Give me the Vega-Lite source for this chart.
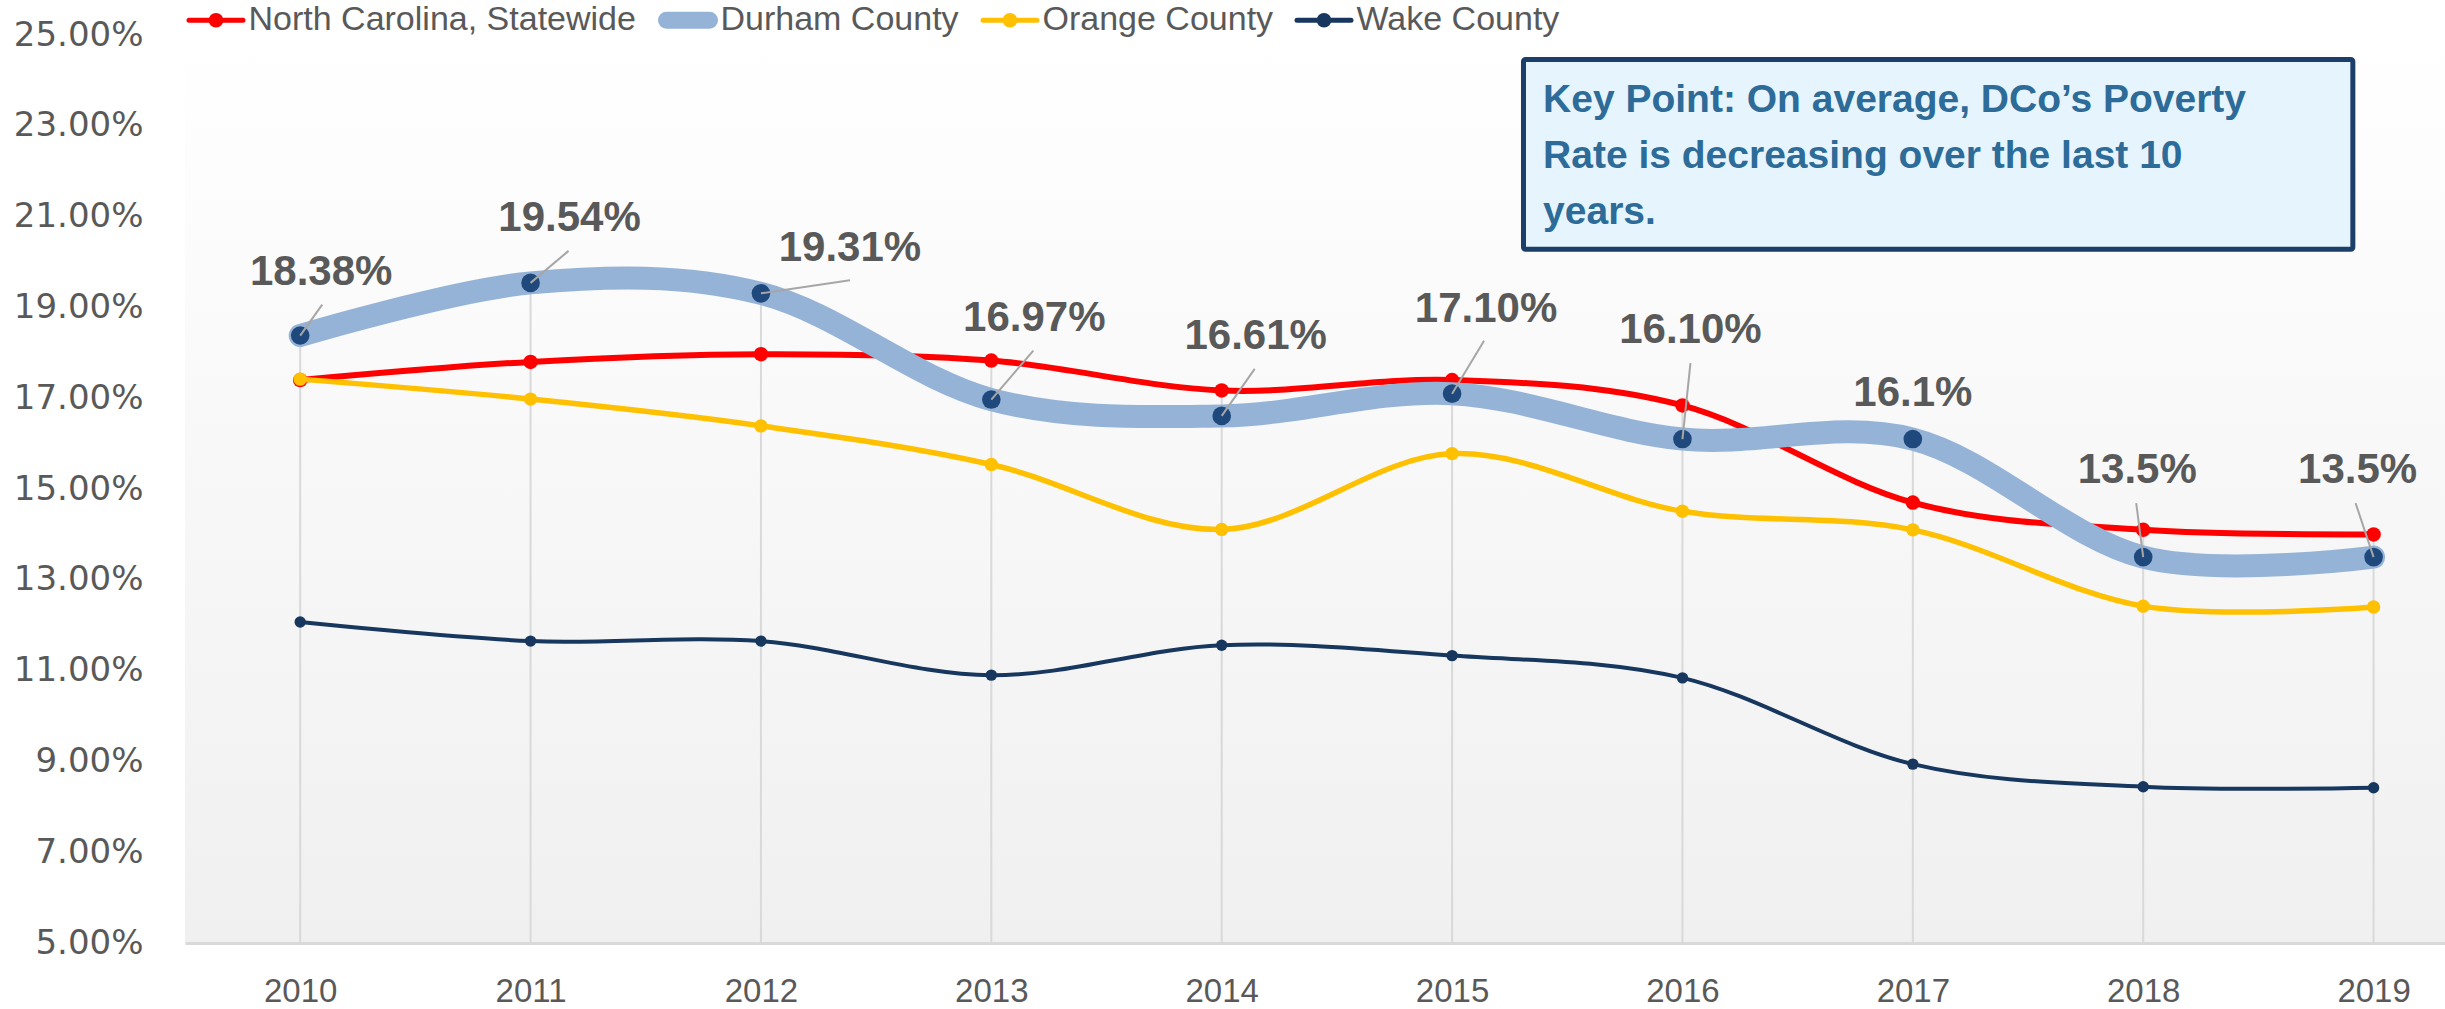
{
  "$schema": "https://vega.github.io/schema/vega-lite/v6.json",
  "width": 2260,
  "height": 908,
  "autosize": {"type": "none"},
  "padding": {"left": 185, "top": 35, "right": 0, "bottom": 66},
  "background": "#FFFFFF",
  "config": {"view": {"stroke": null}, "font": "Liberation Sans"},
  "datasets": {
    "annot": [{"k": 1}]
  },
  "data": {
    "values": [
      {"year": 2010, "series": "North Carolina, Statewide", "value": 17.40},
      {"year": 2011, "series": "North Carolina, Statewide", "value": 17.80},
      {"year": 2012, "series": "North Carolina, Statewide", "value": 17.97},
      {"year": 2013, "series": "North Carolina, Statewide", "value": 17.83},
      {"year": 2014, "series": "North Carolina, Statewide", "value": 17.17},
      {"year": 2015, "series": "North Carolina, Statewide", "value": 17.40},
      {"year": 2016, "series": "North Carolina, Statewide", "value": 16.84},
      {"year": 2017, "series": "North Carolina, Statewide", "value": 14.70},
      {"year": 2018, "series": "North Carolina, Statewide", "value": 14.10},
      {"year": 2019, "series": "North Carolina, Statewide", "value": 14.00},
      {"year": 2010, "series": "Durham County", "value": 18.38, "label": "18.38%"},
      {"year": 2011, "series": "Durham County", "value": 19.54, "label": "19.54%"},
      {"year": 2012, "series": "Durham County", "value": 19.31, "label": "19.31%"},
      {"year": 2013, "series": "Durham County", "value": 16.97, "label": "16.97%"},
      {"year": 2014, "series": "Durham County", "value": 16.61, "label": "16.61%"},
      {"year": 2015, "series": "Durham County", "value": 17.10, "label": "17.10%"},
      {"year": 2016, "series": "Durham County", "value": 16.10, "label": "16.10%"},
      {"year": 2017, "series": "Durham County", "value": 16.10, "label": "16.1%"},
      {"year": 2018, "series": "Durham County", "value": 13.50, "label": "13.5%"},
      {"year": 2019, "series": "Durham County", "value": 13.50, "label": "13.5%"},
      {"year": 2010, "series": "Orange County", "value": 17.42},
      {"year": 2011, "series": "Orange County", "value": 16.98},
      {"year": 2012, "series": "Orange County", "value": 16.39},
      {"year": 2013, "series": "Orange County", "value": 15.54},
      {"year": 2014, "series": "Orange County", "value": 14.11},
      {"year": 2015, "series": "Orange County", "value": 15.78},
      {"year": 2016, "series": "Orange County", "value": 14.51},
      {"year": 2017, "series": "Orange County", "value": 14.10},
      {"year": 2018, "series": "Orange County", "value": 12.42},
      {"year": 2019, "series": "Orange County", "value": 12.40},
      {"year": 2010, "series": "Wake County", "value": 12.07},
      {"year": 2011, "series": "Wake County", "value": 11.65},
      {"year": 2012, "series": "Wake County", "value": 11.65},
      {"year": 2013, "series": "Wake County", "value": 10.90},
      {"year": 2014, "series": "Wake County", "value": 11.56},
      {"year": 2015, "series": "Wake County", "value": 11.33},
      {"year": 2016, "series": "Wake County", "value": 10.84},
      {"year": 2017, "series": "Wake County", "value": 8.94},
      {"year": 2018, "series": "Wake County", "value": 8.44},
      {"year": 2019, "series": "Wake County", "value": 8.42}
    ]
  },
  "layer": [
    {
      "data": {"name": "annot"},
      "mark": {"type": "rect", "fill": {"gradient": "linear", "x1": 0, "y1": 0, "x2": 0, "y2": 1,
        "stops": [{"offset": 0, "color": "#FFFFFF"}, {"offset": 1, "color": "#F0F0F0"}]}},
      "encoding": {
        "x": {"datum": 2009.5, "type": "quantitative", "scale": {"domain": [2009.5, 2019.31], "nice": false, "zero": false},
          "axis": {
            "title": null, "values": [2010, 2011, 2012, 2013, 2014, 2015, 2016, 2017, 2018, 2019],
            "format": "d", "labelFont": "Liberation Sans", "labelFontSize": 33, "labelColor": "#595959",
            "domainColor": "#D9D9D9", "domainWidth": 3, "ticks": false, "tickSize": 0, "grid": false,
            "labelPadding": 32, "labelFlush": false, "labelOverlap": false, "zindex": 1
          }},
        "x2": {"datum": 2019.31},
        "y": {"datum": 25, "type": "quantitative", "scale": {"domain": [5, 25], "nice": false, "zero": false},
          "axis": {
            "title": null, "values": [5, 7, 9, 11, 13, 15, 17, 19, 21, 23, 25],
            "labelExpr": "format(datum.value, '.2f') + '%'",
            "labelFont": "DejaVu Sans", "labelFontSize": 34, "labelColor": "#595959",
            "domain": false, "ticks": false, "tickSize": 0, "grid": false, "labelPadding": 42, "zindex": 1
          }},
        "y2": {"datum": 5}
      }
    },
    {
      "encoding": {
        "x": {
          "field": "year", "type": "quantitative",
          "scale": {"domain": [2009.5, 2019.31], "nice": false, "zero": false},
          "axis": {
            "title": null, "values": [2010, 2011, 2012, 2013, 2014, 2015, 2016, 2017, 2018, 2019],
            "format": "d", "labelFont": "Liberation Sans", "labelFontSize": 33, "labelColor": "#595959",
            "domainColor": "#D9D9D9", "domainWidth": 3, "ticks": false, "tickSize": 0, "grid": false,
            "labelPadding": 32, "labelFlush": false, "labelOverlap": false, "zindex": 1
          }
        },
        "y": {
          "field": "value", "type": "quantitative",
          "scale": {"domain": [5, 25], "nice": false, "zero": false},
          "axis": {
            "title": null, "values": [5, 7, 9, 11, 13, 15, 17, 19, 21, 23, 25],
            "labelExpr": "format(datum.value, '.2f') + '%'",
            "labelFont": "DejaVu Sans", "labelFontSize": 34, "labelColor": "#595959",
            "domain": false, "ticks": false, "tickSize": 0, "grid": false, "labelPadding": 42, "zindex": 1
          }
        }
      },
      "layer": [
        {
          "mark": {"type": "rule", "color": "#D9D9D9", "strokeWidth": 2},
          "encoding": {"y": {"aggregate": "max", "field": "value", "type": "quantitative"}, "y2": {"datum": 5}}
        },
        {
          "transform": [{"filter": "datum.series === 'North Carolina, Statewide'"}],
          "mark": {"type": "line", "interpolate": "cardinal", "strokeWidth": 6, "strokeCap": "round", "strokeJoin": "round"},
          "encoding": {
            "stroke": {
              "field": "series", "type": "nominal",
              "scale": {"domain": ["North Carolina, Statewide", "Durham County", "Orange County", "Wake County"],
                        "range": ["#FF0000", "#95B3D7", "#FFC000", "#17375E"]},
              "legend": {
                "title": null, "orient": "none", "legendX": 1.5, "legendY": -44.5, "direction": "horizontal", "padding": 0,
                "symbolType": "M-1,0H1", "symbolSize": 2916, "symbolStrokeWidth": 5,
                "labelFont": "Liberation Sans", "labelFontSize": 34, "labelColor": "#595959", "labelOffset": 3,
                "columnPadding": 13, "labelLimit": 1000,
                "encode": {"symbols": {"update": {
                  "shape": {"signal": "datum.value === 'Durham County' ? 'M-0.8,-0.22H0.8A0.22,0.22,0,0,1,0.8,0.22H-0.8A0.22,0.22,0,0,1,-0.8,-0.22Z' : 'M-1,0H1M-0.18,0A0.18,0.18,0,1,0,0.18,0A0.18,0.18,0,1,0,-0.18,0Z'"},
                  "fill": {"signal": "datum.value === 'North Carolina, Statewide' ? '#FF0000' : datum.value === 'Durham County' ? '#95B3D7' : datum.value === 'Orange County' ? '#FFC000' : '#17375E'"},
                  "strokeCap": {"value": "round"},
                  "opacity": {"value": 1}
                }}}
              }
            }
          }
        },
        {
          "transform": [{"filter": "datum.series === 'North Carolina, Statewide'"}],
          "mark": {"type": "point", "filled": true, "shape": "circle", "size": 210, "color": "#FF0000", "opacity": 1}
        },
        {
          "transform": [{"filter": "datum.series === 'Durham County'"}],
          "mark": {"type": "line", "interpolate": "cardinal", "strokeWidth": 23, "strokeCap": "round", "strokeJoin": "round"},
          "encoding": {
            "stroke": {
              "field": "series", "type": "nominal",
              "scale": {"domain": ["North Carolina, Statewide", "Durham County", "Orange County", "Wake County"],
                        "range": ["#FF0000", "#95B3D7", "#FFC000", "#17375E"]},
              "legend": {
                "title": null, "orient": "none", "legendX": 1.5, "legendY": -44.5, "direction": "horizontal", "padding": 0,
                "symbolType": "M-1,0H1", "symbolSize": 2916, "symbolStrokeWidth": 5,
                "labelFont": "Liberation Sans", "labelFontSize": 34, "labelColor": "#595959", "labelOffset": 3,
                "columnPadding": 13, "labelLimit": 1000,
                "encode": {"symbols": {"update": {
                  "shape": {"signal": "datum.value === 'Durham County' ? 'M-0.8,-0.22H0.8A0.22,0.22,0,0,1,0.8,0.22H-0.8A0.22,0.22,0,0,1,-0.8,-0.22Z' : 'M-1,0H1M-0.18,0A0.18,0.18,0,1,0,0.18,0A0.18,0.18,0,1,0,-0.18,0Z'"},
                  "fill": {"signal": "datum.value === 'North Carolina, Statewide' ? '#FF0000' : datum.value === 'Durham County' ? '#95B3D7' : datum.value === 'Orange County' ? '#FFC000' : '#17375E'"},
                  "strokeCap": {"value": "round"},
                  "opacity": {"value": 1}
                }}}
              }
            }
          }
        },
        {
          "transform": [{"filter": "datum.series === 'Durham County'"}],
          "mark": {"type": "point", "filled": true, "shape": "circle", "size": 346, "color": "#1F497D", "opacity": 1}
        },
        {
          "transform": [{"filter": "datum.series === 'Orange County'"}],
          "mark": {"type": "line", "interpolate": "cardinal", "strokeWidth": 5.5, "strokeCap": "round", "strokeJoin": "round"},
          "encoding": {
            "stroke": {
              "field": "series", "type": "nominal",
              "scale": {"domain": ["North Carolina, Statewide", "Durham County", "Orange County", "Wake County"],
                        "range": ["#FF0000", "#95B3D7", "#FFC000", "#17375E"]},
              "legend": {
                "title": null, "orient": "none", "legendX": 1.5, "legendY": -44.5, "direction": "horizontal", "padding": 0,
                "symbolType": "M-1,0H1", "symbolSize": 2916, "symbolStrokeWidth": 5,
                "labelFont": "Liberation Sans", "labelFontSize": 34, "labelColor": "#595959", "labelOffset": 3,
                "columnPadding": 13, "labelLimit": 1000,
                "encode": {"symbols": {"update": {
                  "shape": {"signal": "datum.value === 'Durham County' ? 'M-0.8,-0.22H0.8A0.22,0.22,0,0,1,0.8,0.22H-0.8A0.22,0.22,0,0,1,-0.8,-0.22Z' : 'M-1,0H1M-0.18,0A0.18,0.18,0,1,0,0.18,0A0.18,0.18,0,1,0,-0.18,0Z'"},
                  "fill": {"signal": "datum.value === 'North Carolina, Statewide' ? '#FF0000' : datum.value === 'Durham County' ? '#95B3D7' : datum.value === 'Orange County' ? '#FFC000' : '#17375E'"},
                  "strokeCap": {"value": "round"},
                  "opacity": {"value": 1}
                }}}
              }
            }
          }
        },
        {
          "transform": [{"filter": "datum.series === 'Orange County'"}],
          "mark": {"type": "point", "filled": true, "shape": "circle", "size": 180, "color": "#FFC000", "opacity": 1}
        },
        {
          "transform": [{"filter": "datum.series === 'Wake County'"}],
          "mark": {"type": "line", "interpolate": "cardinal", "strokeWidth": 4, "strokeCap": "round", "strokeJoin": "round"},
          "encoding": {
            "stroke": {
              "field": "series", "type": "nominal",
              "scale": {"domain": ["North Carolina, Statewide", "Durham County", "Orange County", "Wake County"],
                        "range": ["#FF0000", "#95B3D7", "#FFC000", "#17375E"]},
              "legend": {
                "title": null, "orient": "none", "legendX": 1.5, "legendY": -44.5, "direction": "horizontal", "padding": 0,
                "symbolType": "M-1,0H1", "symbolSize": 2916, "symbolStrokeWidth": 5,
                "labelFont": "Liberation Sans", "labelFontSize": 34, "labelColor": "#595959", "labelOffset": 3,
                "columnPadding": 13, "labelLimit": 1000,
                "encode": {"symbols": {"update": {
                  "shape": {"signal": "datum.value === 'Durham County' ? 'M-0.8,-0.22H0.8A0.22,0.22,0,0,1,0.8,0.22H-0.8A0.22,0.22,0,0,1,-0.8,-0.22Z' : 'M-1,0H1M-0.18,0A0.18,0.18,0,1,0,0.18,0A0.18,0.18,0,1,0,-0.18,0Z'"},
                  "fill": {"signal": "datum.value === 'North Carolina, Statewide' ? '#FF0000' : datum.value === 'Durham County' ? '#95B3D7' : datum.value === 'Orange County' ? '#FFC000' : '#17375E'"},
                  "strokeCap": {"value": "round"},
                  "opacity": {"value": 1}
                }}}
              }
            }
          }
        },
        {
          "transform": [{"filter": "datum.series === 'Wake County'"}],
          "mark": {"type": "point", "filled": true, "shape": "circle", "size": 130, "color": "#17375E", "opacity": 1}
        },
        {
          "transform": [{"filter": "datum.series === 'Durham County' && datum.year !== 2017"}],
          "mark": {
            "type": "rule", "color": "#A6A6A6", "strokeWidth": 2,
            "x2Offset": {"expr": "datum.year === 2010 ? 22 : datum.year === 2011 ? 38 : datum.year === 2012 ? 89 : datum.year === 2013 ? 42 : datum.year === 2014 ? 33 : datum.year === 2015 ? 32 : datum.year === 2016 ? 8 : datum.year === 2018 ? -7 : -18"},
            "y2Offset": {"expr": "datum.year === 2010 ? -31 : datum.year === 2011 ? -32 : datum.year === 2012 ? -13 : datum.year === 2013 ? -49 : datum.year === 2014 ? -47 : datum.year === 2015 ? -53 : datum.year === 2016 ? -76 : -54"}
          },
          "encoding": {"x2": {"field": "year"}, "y2": {"field": "value"}}
        },
        {
          "transform": [{"filter": "datum.series === 'Durham County'"}],
          "mark": {
            "type": "text", "font": "Liberation Sans", "fontWeight": "bold", "fontSize": 42, "color": "#595959",
            "align": "center", "baseline": "middle",
            "dx": {"expr": "datum.year === 2010 ? 21 : datum.year === 2011 ? 39 : datum.year === 2012 ? 89 : datum.year === 2013 ? 43 : datum.year === 2014 ? 34 : datum.year === 2015 ? 34 : datum.year === 2016 ? 8 : datum.year === 2017 ? 0 : datum.year === 2018 ? -6 : -16"},
            "dy": {"expr": "datum.year === 2010 ? -64 : datum.year === 2011 ? -65 : datum.year === 2012 ? -45 : datum.year === 2013 ? -82 : datum.year === 2014 ? -80 : datum.year === 2015 ? -85 : datum.year === 2016 ? -109 : datum.year === 2017 ? -46 : -87"}
          },
          "encoding": {"text": {"field": "label"}}
        }
      ]
    },
    {
      "data": {"name": "annot"},
      "mark": {"type": "rect", "fill": "#E6F4FE", "stroke": "#1C3F6A", "strokeWidth": 5, "cornerRadius": 2},
      "encoding": {
        "x": {"datum": 2015.31, "type": "quantitative"},
        "x2": {"datum": 2018.91},
        "y": {"datum": 24.46, "type": "quantitative"},
        "y2": {"datum": 20.28}
      }
    },
    {
      "data": {"name": "annot"},
      "mark": {
        "type": "text", "text": ["Key Point: On average, DCo’s Poverty", "Rate is decreasing over the last 10", "years."],
        "font": "Liberation Sans", "fontWeight": "bold", "fontSize": 39, "lineHeight": 56,
        "color": "#2D6B98", "align": "left", "baseline": "alphabetic"
      },
      "encoding": {
        "x": {"datum": 2015.395, "type": "quantitative"},
        "y": {"datum": 23.30, "type": "quantitative"}
      }
    }
  ]
}
